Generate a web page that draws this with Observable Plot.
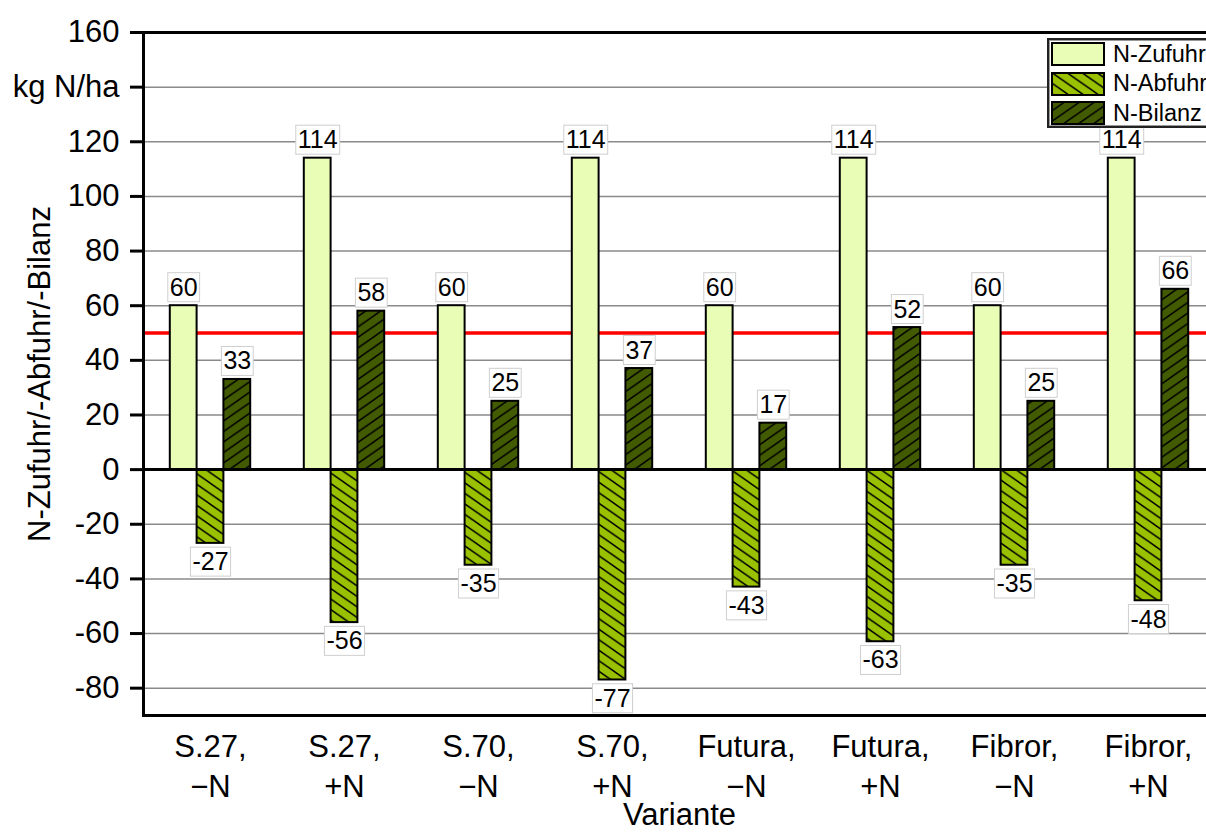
<!DOCTYPE html>
<html>
<head>
<meta charset="utf-8">
<script src="https://cdn.jsdelivr.net/npm/d3@7"></script>
<script src="https://cdn.jsdelivr.net/npm/@observablehq/plot@0.6"></script>
<style>
  html, body { margin: 0; padding: 0; background: #fff; overflow: hidden; }
  #wrap { position: relative; width: 1206px; height: 837px; overflow: hidden; font-family: 'Liberation Sans', Arial, sans-serif; }
  #legend { position: absolute; left: 1047px; top: 38px; width: 200px; height: 86px; background: #fff;
    border: 2px solid #222; box-shadow: inset 0 0 0 1px #999; }
  .lrow { position: absolute; left: 2px; height: 24px; display: flex; align-items: center; font-size: 23.5px; color: #000; white-space: nowrap; }
  .lrow svg { margin-right: 8px; }
</style>
</head>
<body>
<svg width="0" height="0" style="position:absolute">
  <defs>
    <pattern id="hatchDown" patternUnits="userSpaceOnUse" width="15" height="10.5">
      <rect width="15" height="10.5" fill="#99c100"></rect>
      <path d="M-1,-0.7L16,11.2M14,-0.7L16,0.7M-1,9.8L1,11.2" stroke="#000" stroke-width="1.5"></path>
    </pattern>
    <pattern id="hatchUp" patternUnits="userSpaceOnUse" width="15" height="10.5">
      <rect width="15" height="10.5" fill="#425b00"></rect>
      <path d="M-1,11.2L16,-0.7M-1,0.7L1,-0.7M14,11.2L16,9.8" stroke="#000" stroke-width="1.5"></path>
    </pattern>
  </defs>
</svg>
<div id="wrap"></div>
<script>
// ---- data ----
const categories = ["S.27,\n−N", "S.27,\n+N", "S.70,\n−N", "S.70,\n+N", "Futura,\n−N", "Futura,\n+N", "Fibror,\n−N", "Fibror,\n+N"];
const series = ["N-Zufuhr", "N-Abfuhr", "N-Bilanz"];
const zufuhr = [60, 114, 60, 114, 60, 114, 60, 114];
const abfuhr = [-27, -56, -35, -77, -43, -63, -35, -48];
const bilanz = [33, 58, 25, 37, 17, 52, 25, 66];
const threshold = [50];
const yTicks = [-80, -60, -40, -20, 0, 20, 40, 60, 80, 100, 120, 140, 160];
const yTickLabels = ["-80", "-60", "-40", "-20", "0", "20", "40", "60", "80", "100", "120", "kg N/ha", "160"];
const yTitle = "N-Zufuhr/-Abfuhr/-Bilanz";
const xTitle = "Variante";

const seriesValues = [zufuhr, abfuhr, bilanz];
const fills = ["#eafdb6", "url(#hatchDown)", "url(#hatchUp)"];
const rows = categories.flatMap((c, j) => series.map((s, i) => ({cat: c, series: s, si: i, value: seriesValues[i][j]})));

// ---- layout ----
const W = 1216, H = 837, ML = 143, MR = 1, MT = 32, MB = 122;
const bw = (W - ML - MR) / categories.length;
const step = bw / 5;

const barMarks = series.map((s, i) => Plot.barY(rows.filter(d => d.si === i), {
  x: "cat", y: "value", fill: fills[i], stroke: "#000", strokeWidth: 2,
  insetLeft: step * (1 + i), insetRight: step * (3 - i)
}));

const labelMarks = series.flatMap((s, i) => [
  Plot.text(rows.filter(d => d.si === i && d.value >= 0), {
    x: "cat", y: "value", text: d => String(d.value), dx: step * (i - 1), dy: -10,
    lineAnchor: "bottom", fontSize: 25, fill: "#000", className: "vlab"
  }),
  Plot.text(rows.filter(d => d.si === i && d.value < 0), {
    x: "cat", y: "value", text: d => String(d.value), dx: step * (i - 1), dy: 9,
    lineAnchor: "top", fontSize: 25, fill: "#000", className: "vlab"
  })
]);

const chart = Plot.plot({
  width: W, height: H, marginLeft: ML, marginRight: MR, marginTop: MT, marginBottom: MB,
  style: {fontFamily: "'Liberation Sans', Arial, sans-serif", maxWidth: "none", background: "#fff", color: "#000"},
  x: {domain: categories, padding: 0},
  y: {domain: [-90, 160]},
  marks: [
    Plot.gridY(yTicks, {stroke: "#8a8a8a", strokeOpacity: 1, strokeWidth: 1.5}),
    Plot.ruleY(threshold, {stroke: "#ff0000", strokeWidth: 3.5}),
    ...barMarks,
    Plot.ruleY([0], {stroke: "#000", strokeWidth: 3}),
    Plot.frame({anchor: "left", stroke: "#000", strokeWidth: 3}),
    Plot.frame({anchor: "top", stroke: "#000", strokeWidth: 3}),
    Plot.frame({anchor: "bottom", stroke: "#000", strokeWidth: 3}),
    Plot.axisY({ticks: yTicks, tickFormat: d => yTickLabels[yTicks.indexOf(d)], tickSize: 13, tickPadding: 11,
      strokeWidth: 3, stroke: "#000", fontSize: 31, fill: "#000", label: null}),
    Plot.axisX({tickSize: 0, tickPadding: 13, fontSize: 31, lineHeight: 1.3, fill: "#000", label: null}),
    Plot.text([yTitle], {frameAnchor: "left", textAnchor: "middle", lineAnchor: "middle", rotate: -90, dx: -103, fontSize: 31, fill: "#000"}),
    Plot.text([xTitle], {frameAnchor: "bottom", textAnchor: "middle", lineAnchor: "middle", dy: 100, fontSize: 31, fill: "#000"}),
    ...labelMarks
  ]
});

const wrap = document.getElementById("wrap");
wrap.appendChild(chart);

// white boxes behind value labels
d3.select(chart).selectAll("g.vlab text").each(function () {
  const bb = this.getBBox();
  const r = document.createElementNS("http://www.w3.org/2000/svg", "rect");
  r.setAttribute("x", bb.x - 2);
  r.setAttribute("y", bb.y);
  r.setAttribute("width", bb.width + 4);
  r.setAttribute("height", bb.height + 1);
  r.setAttribute("fill", "#fff");
  r.setAttribute("stroke", "#cfcfcf");
  r.setAttribute("stroke-width", "1");
  const t = this.getAttribute("transform");
  if (t) r.setAttribute("transform", t);
  this.parentNode.insertBefore(r, this);
});

// legend
const legend = document.createElement("div");
legend.id = "legend";
series.forEach((s, i) => {
  const row = document.createElement("div");
  row.className = "lrow";
  row.style.top = (2 + i * 29.5) + "px";
  row.innerHTML = `<svg width="54" height="24"><rect x="1" y="1" width="52" height="22" fill="${fills[i]}" stroke="#000" stroke-width="2"></rect></svg><span>${s}</span>`;
  legend.appendChild(row);
});
wrap.appendChild(legend);
</script>
</body>
</html>
